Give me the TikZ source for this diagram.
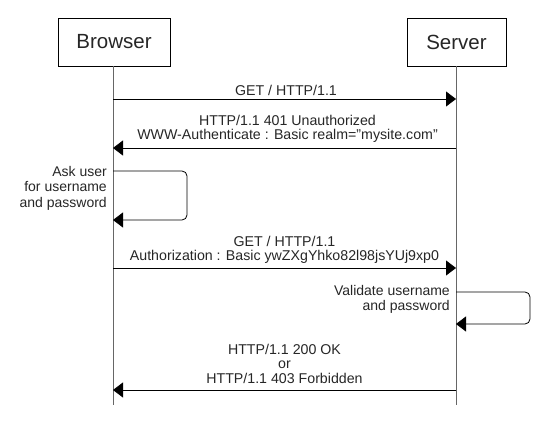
\documentclass[tikz,border=0pt]{standalone}
\usepackage{fontspec}
\setmainfont{Liberation Sans}
\usetikzlibrary{arrows.meta}
\begin{document}
\begin{tikzpicture}[x=1pt,y=-1pt,
  actor/.style={draw=black,line width=0.8pt,minimum height=48pt,font=\fontsize{20.5}{24}\selectfont,text=black!85},
  life/.style={draw=black!60,line width=1pt},
  msg/.style={line width=0.8pt,-{Triangle[length=10pt,width=15pt]}},
  lbl/.style={font=\fontsize{14.2}{14.5}\selectfont,text=black!85,align=center,inner sep=0pt},
  rlbl/.style={font=\fontsize{14}{15.5}\selectfont,text=black!85,align=right,inner sep=0pt,anchor=east}]
\useasboundingbox (0,0) rectangle (539,425);
\node[actor,minimum width=112pt] (browser) at (114,42) {Browser};
\node[actor,minimum width=99pt] (server) at (456.5,42) {Server};
\coordinate (btop) at (113,66);
\coordinate (stop) at (456,66);
\coordinate (bend) at (113,405);
\coordinate (send) at (456,405);
\draw[life] (btop) -- (bend);
\draw[life] (stop) -- (send);
% message 1
\coordinate (b1) at (113,99); \coordinate (s1) at (456,99);
\draw[msg] (b1) -- (s1);
\node[lbl] (m1) at (286,90) {GET / HTTP/1.1};
% message 2
\coordinate (b2) at (113,148); \coordinate (s2) at (456,148);
\draw[msg] (s2) -- (b2);
\node[lbl] (m2) at (287.5,129) {HTTP/1.1 401 Unauthorized\\WWW-Authenticate : Basic realm=\symbol{34}mysite.com\symbol{34}};
% self loop browser
\coordinate (b3a) at (113,171); \coordinate (b3b) at (113,220);
\draw[msg,rounded corners=5pt] (b3a) -- (187,171) -- (187,220) -- (b3b);
\node[rlbl] (m3) at (107,188) {Ask user\\for username\\and password};
% message 3
\coordinate (b4) at (113,268); \coordinate (s4) at (456,268);
\draw[msg] (b4) -- (s4);
\node[lbl] (m4) at (284.5,250) {GET / HTTP/1.1\\Authorization : Basic ywZXgYhko82l98jsYUj9xp0};
% self loop server
\coordinate (s5a) at (456,292); \coordinate (s5b) at (456,324);
\draw[msg,rounded corners=5pt] (s5a) -- (530,292) -- (530,324) -- (s5b);
\node[rlbl] (m5) at (450,299.5) {Validate username\\and password};
% message 5
\coordinate (b6) at (113,390); \coordinate (s6) at (456,390);
\draw[msg] (s6) -- (b6);
\node[lbl] (m6) at (284.5,363.5) {HTTP/1.1 200 OK\\or\\HTTP/1.1 403 Forbidden};
\end{tikzpicture}
\end{document}
